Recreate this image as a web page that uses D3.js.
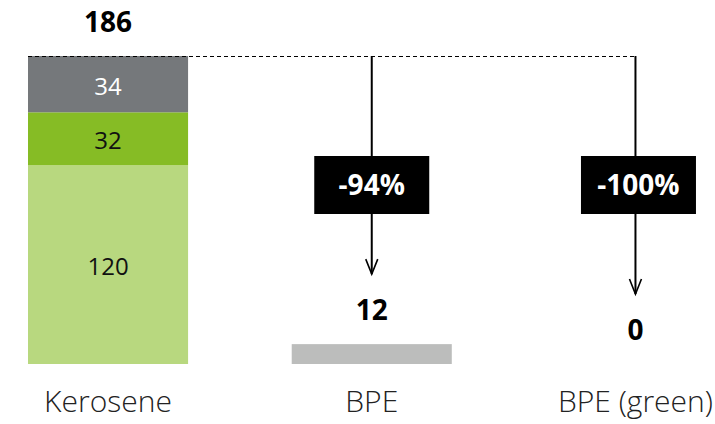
<!DOCTYPE html>
<html>
<head>
<meta charset="utf-8">
<script src="https://cdn.jsdelivr.net/npm/d3@7"></script>
<style>
  html, body { margin: 0; padding: 0; background: #fff; }
  svg { display: block; font-family: "Open Sans", sans-serif; }
</style>
</head>
<body>
<svg id="chart" width="715" height="424"></svg>
<script>
// Fuel options and their emission components
const categories = ["Kerosene", "BPE", "BPE (green)"];
const segmentNames = ["base", "mid", "top"];
const keroseneSegments = [120, 32, 34];
const totals = [186, 12, 0];
const changeLabels = ["-94%", "-100%"];

const segmentColors = ["#b8d87f", "#86bc25", "#75787b"];
const segmentTextColors = ["#111", "#111", "#fff"];
const altBarColor = "#bcbdbc";

const svg = d3.select("#chart");

const x = d3.scaleBand()
  .domain(categories)
  .range([28, 715.5])
  .paddingInner(0.393)
  .paddingOuter(0);

const y = d3.scaleLinear()
  .domain([0, 186])
  .range([364, 56]);

// Stacked kerosene bar
const stackRows = [Object.fromEntries(segmentNames.map((k, i) => [k, keroseneSegments[i]]))];
const stacked = d3.stack().keys(segmentNames)(stackRows);

const kg = svg.append("g");
kg.selectAll("rect")
  .data(stacked)
  .join("rect")
  .attr("x", x("Kerosene"))
  .attr("width", x.bandwidth())
  .attr("y", d => y(d[0][1]))
  .attr("height", d => y(d[0][0]) - y(d[0][1]))
  .attr("fill", (d, i) => segmentColors[i]);

kg.selectAll("text")
  .data(stacked)
  .join("text")
  .attr("x", x("Kerosene") + x.bandwidth() / 2)
  .attr("y", d => (y(d[0][0]) + y(d[0][1])) / 2)
  .attr("dy", "0.44em")
  .attr("text-anchor", "middle")
  .attr("font-size", 24)
  .attr("font-weight", 400)
  .attr("fill", (d, i) => segmentTextColors[i])
  .text(d => d[0].data[d.key]);

// Single bars for the alternatives
const alt = categories.slice(1).map((c, i) => ({ cat: c, value: totals[i + 1] }));
svg.append("g").selectAll("rect")
  .data(alt.filter(d => d.value > 0))
  .join("rect")
  .attr("x", d => x(d.cat))
  .attr("width", x.bandwidth())
  .attr("y", d => y(d.value))
  .attr("height", d => y(0) - y(d.value))
  .attr("fill", altBarColor);

// Total labels above each bar
svg.append("g").selectAll("text")
  .data(categories.map((c, i) => ({ cat: c, value: totals[i] })))
  .join("text")
  .attr("x", d => x(d.cat) + x.bandwidth() / 2)
  .attr("y", d => y(d.value) - 24)
  .attr("text-anchor", "middle")
  .attr("font-size", 28)
  .attr("font-weight", 700)
  .attr("fill", "#000")
  .text(d => d.value);

// Dashed reference line at the kerosene total
const cx = c => x(c) + x.bandwidth() / 2;
svg.append("line")
  .attr("x1", x("Kerosene"))
  .attr("x2", cx("BPE (green)"))
  .attr("y1", y(totals[0]) + 0.5)
  .attr("y2", y(totals[0]) + 0.5)
  .attr("stroke", "#000")
  .attr("stroke-width", 1)
  .attr("stroke-dasharray", "4,3");

// Change arrows with percentage boxes
const boxShift = [0, 3];
const arrows = svg.append("g");
alt.forEach((d, i) => {
  const ax = cx(d.cat);
  const tip = y(d.value) - 70;
  arrows.append("line")
    .attr("x1", ax).attr("x2", ax)
    .attr("y1", y(totals[0])).attr("y2", tip)
    .attr("stroke", "#000").attr("stroke-width", 2);
  arrows.append("path")
    .attr("d", `M${ax - 6},${tip - 15} L${ax},${tip} L${ax + 6},${tip - 15}`)
    .attr("fill", "none").attr("stroke", "#000").attr("stroke-width", 1.6);
  const bx = ax + boxShift[i];
  arrows.append("rect")
    .attr("x", bx - 57.5).attr("y", 156)
    .attr("width", 115).attr("height", 58)
    .attr("fill", "#000");
  arrows.append("text")
    .attr("x", bx).attr("y", 185)
    .attr("dy", "0.36em")
    .attr("text-anchor", "middle")
    .attr("font-size", 28)
    .attr("font-weight", 700)
    .attr("fill", "#fff")
    .text(changeLabels[i]);
});

// Category labels
svg.append("g").selectAll("text")
  .data(categories)
  .join("text")
  .attr("x", d => cx(d))
  .attr("y", 412)
  .attr("text-anchor", "middle")
  .attr("font-size", 30)
  .attr("font-weight", 300)
  .attr("fill", "#222")
  .text(d => d);
</script>
</body>
</html>
